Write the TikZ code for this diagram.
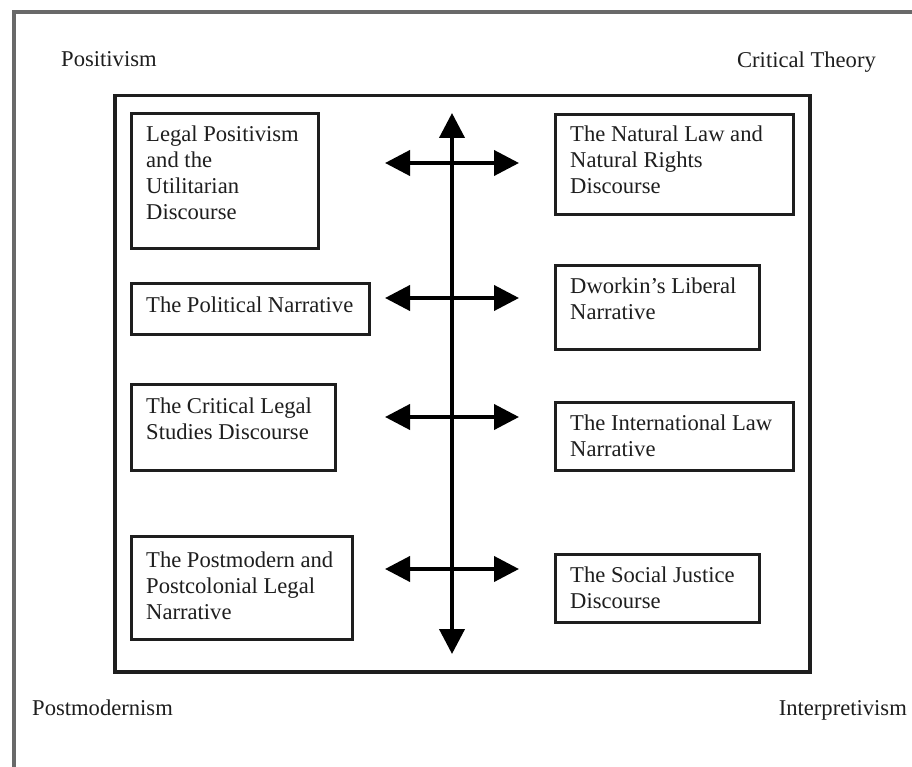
\documentclass[tikz,border=0pt]{standalone}
\usepackage{fontspec}
\setmainfont{Liberation Serif}
\usetikzlibrary{arrows.meta}
\definecolor{framegray}{RGB}{105,105,105}
\definecolor{inkc}{RGB}{30,30,30}
\tikzset{
  box/.style={draw=inkc, line width=3pt, inner sep=0pt, anchor=north west},
  txt/.style={inner sep=0pt, anchor=base west, align=left, text=inkc,
    font=\fontsize{22.6}{26}\selectfont},
  corner/.style={inner sep=0pt, text=inkc, font=\fontsize{22.6}{26}\selectfont},
  biarrow/.style={line width=4pt, draw=black,
    {Triangle[length=25pt,width=25pt]}-{Triangle[length=25pt,width=25pt]}}
}
\begin{document}
\begin{tikzpicture}[x=1pt,y=-1pt]
\useasboundingbox (0,0) rectangle (912,767);
\fill[white] (0,0) rectangle (912,767);
% outer frame (only top and left visible)
\draw[framegray, line width=4pt] (912,12.5) -- (14,12.5) -- (14,767);
% inner frame
\node[box, line width=3.5pt, minimum width=695pt, minimum height=576pt] (frame) at (113,94) {};
% corner labels
\node[corner, anchor=base west] (pos) at (61,67) {Positivism};
\node[corner, anchor=base east] (crit) at (876,68) {Critical Theory};
\node[corner, anchor=base west] (pm) at (32,715) {Postmodernism};
\node[corner, anchor=base east] (interp) at (907,715) {Interpretivism};
% left boxes (text anchored at the baseline of its last line)
\node[box, minimum width=187pt, minimum height=135pt] (b1) at (130,112) {};
\node[txt] (t1) at ([shift={(16,108)}]b1.north west) {Legal Positivism\\and the\\Utilitarian\\Discourse};
\node[box, minimum width=238pt, minimum height=51pt] (b2) at (130,282) {};
\node[txt] (t2) at ([shift={(16,30)}]b2.north west) {The Political Narrative};
\node[box, minimum width=204pt, minimum height=86pt] (b3) at (130,383) {};
\node[txt] (t3) at ([shift={(16,56)}]b3.north west) {The Critical Legal\\Studies Discourse};
\node[box, minimum width=221pt, minimum height=103pt] (b4) at (130,535) {};
\node[txt] (t4) at ([shift={(16,84)}]b4.north west) {The Postmodern and\\Postcolonial Legal\\Narrative};
% right boxes
\node[box, minimum width=238pt, minimum height=100pt] (c1) at (554,113) {};
\node[txt] (u1) at ([shift={(16,81)}]c1.north west) {The Natural Law and\\Natural Rights\\Discourse};
\node[box, minimum width=204pt, minimum height=84pt] (c2) at (554,264) {};
\node[txt] (u2) at ([shift={(16,55)}]c2.north west) {Dworkin’s Liberal\\Narrative};
\node[box, minimum width=238pt, minimum height=68pt] (c3) at (554,401) {};
\node[txt] (u3) at ([shift={(16,55)}]c3.north west) {The International Law\\Narrative};
\node[box, minimum width=204pt, minimum height=68pt] (c4) at (554,553) {};
\node[txt] (u4) at ([shift={(16,55)}]c4.north west) {The Social Justice\\Discourse};
% arrows
\coordinate (vtop) at (452,113);
\coordinate (vbot) at (452,654);
\draw[biarrow] (vtop) -- (vbot);
\coordinate (l1) at (385,163); \coordinate (r1) at (519,163);
\coordinate (l2) at (385,298); \coordinate (r2) at (519,298);
\coordinate (l3) at (385,417); \coordinate (r3) at (519,417);
\coordinate (l4) at (385,569); \coordinate (r4) at (519,569);
\draw[biarrow] (l1) -- (r1);
\draw[biarrow] (l2) -- (r2);
\draw[biarrow] (l3) -- (r3);
\draw[biarrow] (l4) -- (r4);
\end{tikzpicture}
\end{document}
